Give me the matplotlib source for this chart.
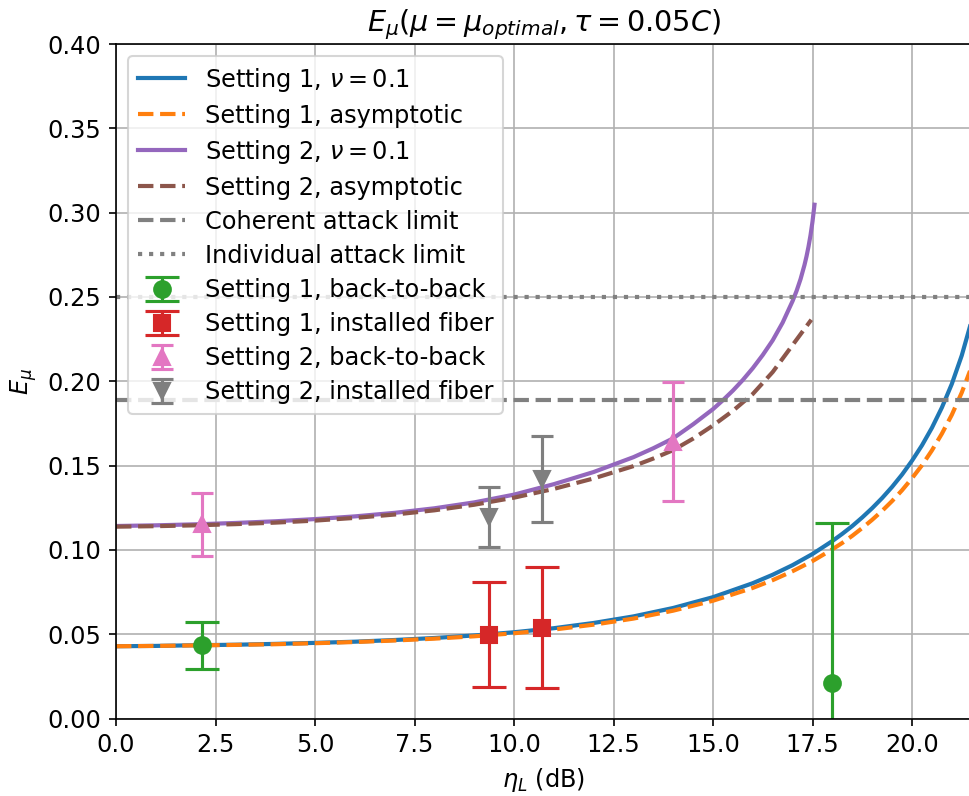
import matplotlib
matplotlib.use("Agg")
import matplotlib.pyplot as plt

plt.rcParams["font.size"] = 11.5

# Loss in dB
eta_s1 = [0, 1, 2, 3, 4, 5, 6, 7, 8, 9, 10, 11, 12, 13, 14, 15, 16, 16.5,
          17, 17.5, 18, 18.25, 18.5, 18.75, 19, 19.25, 19.5, 19.75, 20,
          20.25, 20.5, 20.75, 21, 21.25, 21.5]
# Setting 1, nu = 0.1
e_s1_nu = [0.0429, 0.0431, 0.0435, 0.0438, 0.0443, 0.0449, 0.0456, 0.0466,
           0.0478, 0.0493, 0.0512, 0.0536, 0.0567, 0.0606, 0.0656, 0.0720,
           0.0803, 0.0853, 0.0910, 0.0976, 0.1053, 0.1096, 0.1142, 0.1193,
           0.1248, 0.1308, 0.1374, 0.1447, 0.1529, 0.1620, 0.1724, 0.1844,
           0.1984, 0.2153, 0.2361]
# Setting 1, asymptotic
e_s1_asym = [0.0429, 0.0431, 0.0434, 0.0437, 0.0441, 0.0447, 0.0454, 0.0463,
             0.0474, 0.0488, 0.0506, 0.0528, 0.0557, 0.0593, 0.0640, 0.0699,
             0.0775, 0.0821, 0.0874, 0.0934, 0.1004, 0.1042, 0.1084, 0.1130,
             0.1179, 0.1232, 0.1290, 0.1354, 0.1425, 0.1502, 0.1590, 0.1689,
             0.1801, 0.1933, 0.2088]

eta_s2_nu = [0, 1, 2, 3, 4, 5, 6, 7, 8, 9, 10, 11, 12, 13, 13.5, 14, 14.5,
             15, 15.25, 15.5, 15.75, 16, 16.25, 16.5, 16.75, 17, 17.1, 17.2,
             17.3, 17.35, 17.4, 17.45, 17.5, 17.55]
# Setting 2, nu = 0.1
e_s2_nu = [0.1142, 0.1146, 0.1152, 0.1160, 0.1170, 0.1183, 0.1199, 0.1220,
           0.1247, 0.1282, 0.1328, 0.1390, 0.1462, 0.1550, 0.1603, 0.1662,
           0.1745, 0.1835, 0.1888, 0.1945, 0.2008, 0.2078, 0.2156, 0.2243,
           0.2348, 0.2476, 0.2536, 0.2606, 0.2691, 0.2741, 0.2799, 0.2866,
           0.2947, 0.3047]

eta_s2_asym = [0, 1, 2, 3, 4, 5, 6, 7, 8, 9, 10, 11, 12, 13, 13.5, 14, 14.5,
               15, 15.5, 16, 16.5, 16.75, 17, 17.25, 17.47]
# Setting 2, asymptotic
e_s2_asym = [0.1138, 0.1141, 0.1146, 0.1153, 0.1162, 0.1174, 0.1190, 0.1210,
             0.1235, 0.1268, 0.1310, 0.1362, 0.1424, 0.1497, 0.1542, 0.1592,
             0.1660, 0.1738, 0.1825, 0.1925, 0.2055, 0.2135, 0.2215, 0.2295,
             0.2365]

coherent_limit = 0.189
individual_limit = 0.25

# Measurements
s1_b2b_x = [2.17, 18.0]
s1_b2b_y = [0.0434, 0.0213]
s1_b2b_err = [0.0138, 0.0947]

s1_fib_x = [9.36, 10.70]
s1_fib_y = [0.0498, 0.0539]
s1_fib_err = [0.0310, 0.0359]

s2_b2b_x = [2.17, 14.0]
s2_b2b_y = [0.1152, 0.1642]
s2_b2b_err = [0.0188, 0.0353]

s2_fib_x = [9.36, 10.70]
s2_fib_y = [0.1197, 0.1420]
s2_fib_err = [0.0179, 0.0256]

x_ticks = [0.0, 2.5, 5.0, 7.5, 10.0, 12.5, 15.0, 17.5, 20.0]
y_ticks = [0.00, 0.05, 0.10, 0.15, 0.20, 0.25, 0.30, 0.35, 0.40]

fig = plt.figure(figsize=(969 / 150, 796 / 150), dpi=150)
ax = fig.add_axes([116 / 969, 77.4 / 796, (971.7 - 116) / 969, 674.6 / 796])

ax.plot(eta_s1, e_s1_nu, color="tab:blue", lw=2, label=r"Setting 1, $\nu = 0.1$")
ax.plot(eta_s1, e_s1_asym, color="tab:orange", lw=2, ls="--",
        label="Setting 1, asymptotic")
ax.plot(eta_s2_nu, e_s2_nu, color="tab:purple", lw=2, label=r"Setting 2, $\nu = 0.1$")
ax.plot(eta_s2_asym, e_s2_asym, color="tab:brown", lw=2, ls="--",
        label="Setting 2, asymptotic")
ax.axhline(coherent_limit, color="gray", lw=2, ls="--", label="Coherent attack limit")
ax.axhline(individual_limit, color="gray", lw=2, ls=":", label="Individual attack limit")

ax.errorbar(s1_b2b_x, s1_b2b_y, yerr=s1_b2b_err, fmt="o", color="tab:green",
            ms=8, capsize=8, elinewidth=1.5, capthick=1.5,
            label="Setting 1, back-to-back")
ax.errorbar(s1_fib_x, s1_fib_y, yerr=s1_fib_err, fmt="s", color="tab:red",
            ms=8, capsize=8, elinewidth=1.5, capthick=1.5,
            label="Setting 1, installed fiber")
ax.errorbar(s2_b2b_x, s2_b2b_y, yerr=s2_b2b_err, fmt="^", color="tab:pink",
            ms=8, capsize=5.5, elinewidth=1.5, capthick=1.5,
            label="Setting 2, back-to-back")
ax.errorbar(s2_fib_x, s2_fib_y, yerr=s2_fib_err, fmt="v", color="tab:gray",
            ms=8, capsize=5.5, elinewidth=1.5, capthick=1.5,
            label="Setting 2, installed fiber")

ax.set_xlim(0, 21.5)
ax.set_ylim(0, 0.40)
ax.set_xticks(x_ticks)
ax.set_yticks(y_ticks)
ax.set_xticklabels([f"{v:.1f}" for v in x_ticks])
ax.set_yticklabels([f"{v:.2f}" for v in y_ticks])
ax.grid(True, color="#b0b0b0", lw=0.8)
ax.set_axisbelow(True)

ax.set_xlabel(r"$\eta_L$ (dB)")
ax.set_ylabel(r"$E_\mu$")
ax.set_title(r"$E_\mu(\mu = \mu_{optimal}, \tau = 0.05C)$", fontsize=13.8)
ax.legend(loc="upper left", fontsize=11.5, labelspacing=0.42)

fig.savefig("out.png", dpi=150)
